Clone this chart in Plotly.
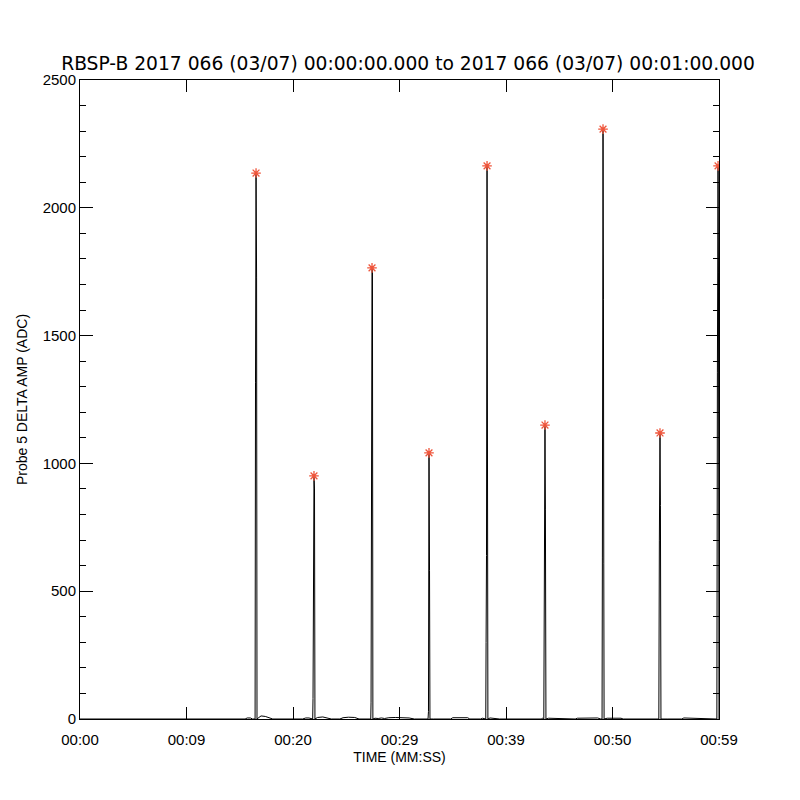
import plotly.graph_objects as go

# Sample times (s) and ADC values of the probe 5 delta-amp trace
times = [0.0, 15.5, 15.7, 16.0, 16.2, 16.40,
         16.44, 16.48, 16.53, 16.58, 16.62,
         16.8, 17.0, 17.4, 17.8, 18.1, 20.9, 21.2, 21.5, 21.75,
         21.85, 21.88, 21.92, 21.97, 22.02, 22.06,
         22.3, 22.8, 23.3, 23.6, 24.4, 24.7, 25.2, 25.8, 26.2, 27.1,
         27.30, 27.33, 27.37, 27.42, 27.46, 27.50,
         27.7, 28.0, 28.3, 28.6, 29.0, 29.6, 30.4, 30.9, 31.4, 32.6,
         32.68, 32.72, 32.77, 32.82, 32.86,
         33.2, 34.8, 35.0, 36.4, 36.6, 37.6, 37.8, 38.05,
         38.10, 38.13, 38.17, 38.22, 38.26, 38.30,
         38.5, 39.0, 39.4, 43.3, 43.45,
         43.55, 43.58, 43.66, 43.70, 43.75,
         44.0, 44.8, 45.3, 46.5, 46.7, 47.5, 48.6, 48.9,
         49.02, 49.05, 49.11, 49.15, 49.18, 49.21,
         49.5, 50.8, 51.0, 54.3,
         54.35, 54.40, 54.46, 54.50, 54.55,
         55.2, 56.5, 56.7, 57.5, 58.2, 59.2, 59.7,
         59.80, 59.85, 59.91, 59.95, 60.0]
values = [0, 0, 4, 4, 0, 0,
          0, 1315, 2136, 1729, 0,
          6, 12, 10, 4, 0, 0, 4, 4, 0,
          0, 80, 400, 951, 900, 0,
          6, 8, 4, 0, 0, 5, 7, 6, 0, 0,
          0, 66, 915, 1765, 1749, 0,
          3, 2, 4, 2, 5, 6, 6, 4, 0, 0,
          0, 30, 1041, 580, 0,
          0, 0, 5, 5, 0, 0, 3, 0,
          0, 300, 640, 2164, 1310, 0,
          4, 3, 0, 0, 3,
          0, 230, 1150, 818, 0,
          3, 2, 0, 0, 3, 3, 4, 0,
          0, 630, 2308, 1640, 610, 0,
          3, 3, 0, 0,
          0, 700, 1119, 835, 0,
          0, 0, 4, 3, 4, 3, 0,
          0, 1354, 2164, 1745, 0]

# Detected peaks (red asterisks)
peak_times = [16.53, 21.97, 27.42, 32.77, 38.22, 43.66, 49.11, 54.46, 59.91]
peak_values = [2136, 951, 1765, 1041, 2164, 1150, 2308, 1119, 2164]

x_tickvals = [0, 10, 20, 30, 40, 50, 60]
x_ticktext = ["00:00", "00:09", "00:20", "00:29", "00:39", "00:50", "00:59"]
y_tickvals = [0, 500, 1000, 1500, 2000, 2500]

FONT = "Liberation Sans, Arial, sans-serif"

fig = go.Figure()
fig.add_trace(go.Scatter(x=times, y=values, mode="lines",
                         line=dict(color="black", width=1), hoverinfo="skip"))
fig.add_trace(go.Scatter(x=peak_times, y=peak_values, mode="markers",
                         marker=dict(symbol="asterisk-open", size=8,
                                     line=dict(color="#ff0000", width=1.3))))

fig.update_layout(
    width=800, height=800,
    paper_bgcolor="white", plot_bgcolor="white",
    showlegend=False,
    margin=dict(l=72, r=89, t=72, b=89),
    font=dict(family=FONT, color="black", size=14),
    title=dict(text="RBSP-B 2017 066 (03/07) 00:00:00.000 to 2017 066 (03/07) 00:01:00.000",
               x=0.5, xanchor="center", y=1 - 55 / 800, yanchor="middle",
               font=dict(size=18.7, family="DejaVu Sans, sans-serif", color="black")),
)
fig.update_xaxes(
    range=[0, 60], tickvals=x_tickvals, ticktext=x_ticktext,
    ticks="inside", ticklen=12, tickwidth=1, tickcolor="black",
    showline=True, linecolor="black", linewidth=1, mirror="allticks",
    showgrid=False, zeroline=False, ticklabelstandoff=7,
    tickfont=dict(size=15),
    title=dict(text="TIME (MM:SS)", font=dict(size=14), standoff=5),
)
fig.update_yaxes(
    range=[0, 2500], tickvals=y_tickvals,
    ticks="inside", ticklen=13, tickwidth=1, tickcolor="black",
    minor=dict(ticks="inside", ticklen=6, dtick=100, tickcolor="black", showgrid=False),
    showline=True, linecolor="black", linewidth=1, mirror="allticks",
    showgrid=False, zeroline=False, tickfont=dict(size=15),
    title=dict(text="Probe 5 DELTA AMP (ADC)", font=dict(size=14), standoff=11),
)

fig.write_html("out.html")
